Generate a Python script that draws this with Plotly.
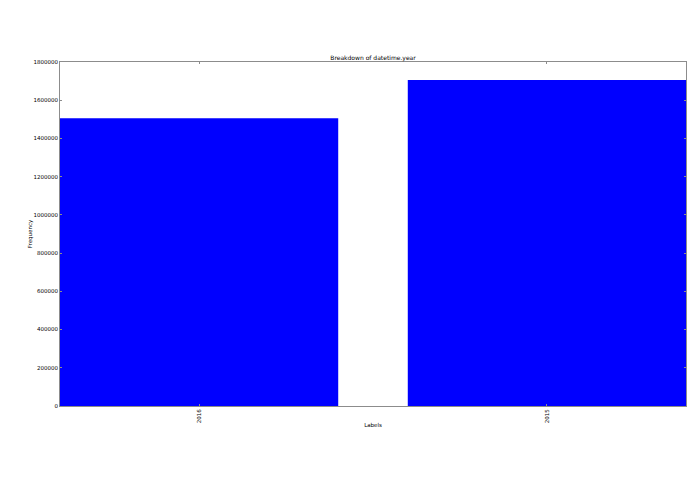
import plotly.graph_objects as go

labels = ['2016', '2015']
counts = [1505800, 1705800]

fig = go.Figure()

fig.add_trace(go.Bar(x=labels, y=counts, width=0.8,
                     marker=dict(color='#0000ff', line=dict(width=0))))

tick_font = dict(family='DejaVu Sans', size=5.5, color='black')
axis_style = dict(showline=True, linecolor='#8c8c8c', linewidth=1, mirror='ticks',
                  ticks='inside', ticklen=2, tickcolor='#8c8c8c',
                  showgrid=False, zeroline=False, tickfont=tick_font)

fig.update_xaxes(type='category', range=[-0.4, 1.4], tickangle=-90,
                 title=dict(text='Labels', font=tick_font, standoff=0),
                 **axis_style)
fig.update_yaxes(range=[0, 1800000], dtick=200000, tickformat='d',
                 title=dict(text='Frequency', font=tick_font, standoff=0),
                 **axis_style)

fig.update_layout(width=695, height=494,
                  margin=dict(l=60, r=9, t=62, b=88),
                  title=dict(text='Breakdown of datetime.year', x=0.5, xref='paper',
                             xanchor='center', y=1 - 58 / 494, yanchor='middle',
                             font=dict(family='DejaVu Sans', size=6, color='black')),
                  plot_bgcolor='white', paper_bgcolor='white',
                  showlegend=False, bargap=0.2)

# drop the default page margin so the figure sits at the window corner
fig.write_html('out.html', config={'displayModeBar': False},
               post_script="document.body.style.margin='0';document.body.style.overflow='hidden';")
